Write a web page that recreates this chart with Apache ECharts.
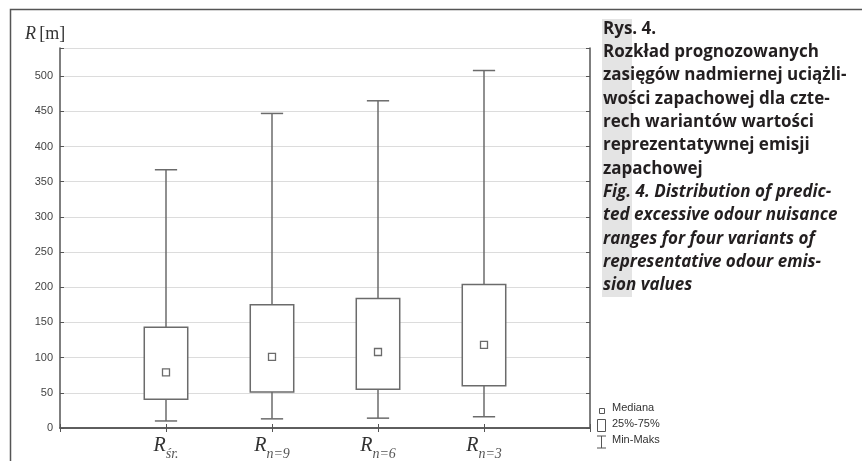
<!DOCTYPE html>
<html>
<head>
<meta charset="utf-8">
<script src="https://cdn.jsdelivr.net/npm/echarts@6/dist/echarts.min.js"></script>
<style>
  html, body { margin: 0; padding: 0; background: #fff; }
  #chart { width: 862px; height: 461px; }
</style>
</head>
<body>
<div id="chart"></div>
<script>
// Variants of representative odour emission (subscript part of the R label)
const categories = ['śr.', 'n=9', 'n=6', 'n=3'];
// Statistics of predicted nuisance range R [m] per variant
const minValues    = [10, 13, 14, 16];
const q1Values     = [41, 51, 55, 60];
const medianValues = [79, 101, 108, 118];
const q3Values     = [143, 175, 184, 204];
const maxValues    = [367, 447, 465, 508];
// Y axis ticks
const yTicks = [0, 50, 100, 150, 200, 250, 300, 350, 400, 450, 500];

const captionPl = [
  'Rys. 4.',
  'Rozkład prognozowanych',
  'zasięgów nadmiernej uciążli-',
  'wości zapachowej dla czte-',
  'rech wariantów wartości',
  'reprezentatywnej emisji',
  'zapachowej'
];
const captionEn = [
  'Fig. 4. Distribution of predic-',
  'ted excessive odour nuisance',
  'ranges for four variants of',
  'representative odour emis-',
  'sion values'
];

const LINE = '#6b6b6b';
const AXIS = '#555';

// Category axis padded with an empty slot at each end
const axisData = [''].concat(categories, ['']);
const boxData = categories.map((c, i) => [i + 1, minValues[i], q1Values[i], medianValues[i], q3Values[i], maxValues[i]]);

function renderBox(params, api) {
  const x = api.value(0);
  const pMin = api.coord([x, api.value(1)]);
  const pQ1 = api.coord([x, api.value(2)]);
  const pMed = api.coord([x, api.value(3)]);
  const pQ3 = api.coord([x, api.value(4)]);
  const pMax = api.coord([x, api.value(5)]);
  const band = api.size([1, 0])[0];
  const bw = band * 0.41;
  const cw = band * 0.21;
  const cx = pMed[0];
  const st = { stroke: LINE, lineWidth: 1.5, fill: null };
  return {
    type: 'group',
    children: [
      { type: 'line', shape: { x1: cx, y1: pMax[1], x2: cx, y2: pQ3[1] }, style: st },
      { type: 'line', shape: { x1: cx, y1: pQ1[1], x2: cx, y2: pMin[1] }, style: st },
      { type: 'line', shape: { x1: cx - cw / 2, y1: pMax[1], x2: cx + cw / 2, y2: pMax[1] }, style: st },
      { type: 'line', shape: { x1: cx - cw / 2, y1: pMin[1], x2: cx + cw / 2, y2: pMin[1] }, style: st },
      { type: 'rect', shape: { x: cx - bw / 2, y: pQ3[1], width: bw, height: pQ1[1] - pQ3[1] },
        style: { stroke: LINE, lineWidth: 1.5, fill: '#fff' } },
      { type: 'rect', shape: { x: cx - 3.5, y: pMed[1] - 3.5, width: 7, height: 7 },
        style: { stroke: LINE, lineWidth: 1.3, fill: '#fff' } }
    ]
  };
}

// Caption text block on the right
const capX = 603;
const capY0 = 29;
const capStep = 23.3;
const captionGraphics = [
  { type: 'rect', shape: { x: 602, y: 19, width: 30, height: 278 }, style: { fill: '#e4e4e4' }, z: 1 }
];
captionPl.forEach((t, i) => captionGraphics.push({
  type: 'text', x: capX, y: capY0 + i * capStep, z: 2,
  style: { text: t, font: 'bold 17px "Open Sans"', fill: '#231f20', textVerticalAlign: 'middle' }
}));
captionEn.forEach((t, i) => captionGraphics.push({
  type: 'text', x: capX, y: capY0 + (captionPl.length + i) * capStep, z: 2,
  style: { text: t, font: 'italic bold 17px "Open Sans"', fill: '#231f20', textVerticalAlign: 'middle' }
}));

// Key explaining the box symbols
const legendGraphics = [
  { type: 'rect', shape: { x: 599.5, y: 408.5, width: 5, height: 5 }, style: { stroke: '#555', fill: '#fff', lineWidth: 1 } },
  { type: 'rect', shape: { x: 597.5, y: 419.5, width: 8, height: 12 }, style: { stroke: '#555', fill: '#fff', lineWidth: 1 } },
  { type: 'polyline', shape: { points: [[597, 436], [606, 436]] }, style: { stroke: '#555', lineWidth: 1 } },
  { type: 'polyline', shape: { points: [[601.5, 436], [601.5, 448]] }, style: { stroke: '#555', lineWidth: 1 } },
  { type: 'polyline', shape: { points: [[597, 448], [606, 448]] }, style: { stroke: '#555', lineWidth: 1 } },
  { type: 'text', x: 612, y: 408, style: { text: 'Mediana', font: '11px "Liberation Sans"', fill: '#333', textVerticalAlign: 'middle' } },
  { type: 'text', x: 612, y: 424, style: { text: '25%-75%', font: '11px "Liberation Sans"', fill: '#333', textVerticalAlign: 'middle' } },
  { type: 'text', x: 612, y: 440, style: { text: 'Min-Maks', font: '11px "Liberation Sans"', fill: '#333', textVerticalAlign: 'middle' } }
];

const chart = echarts.init(document.getElementById('chart'), null, { renderer: 'canvas' });
chart.setOption({
  animation: false,
  backgroundColor: '#fff',
  grid: { left: 60, top: 48, right: 272, bottom: 30.5, show: false },
  xAxis: [{
    type: 'category', data: axisData, boundaryGap: false,
    axisLine: { lineStyle: { color: AXIS, width: 1.5 } },
    axisTick: { inside: true, length: 4, lineStyle: { color: AXIS } },
    axisLabel: {
      margin: 6, interval: 0,
      formatter: v => v ? '{r|R}{s|' + v + '}' : '',
      rich: {
        r: { fontFamily: 'Liberation Serif', fontStyle: 'italic', fontSize: 20, color: '#333', verticalAlign: 'bottom', lineHeight: 22 },
        s: { fontFamily: 'Liberation Serif', fontStyle: 'italic', fontSize: 14, color: '#555', verticalAlign: 'bottom', padding: [0, 0, -5, 0], lineHeight: 22 }
      }
    },
    splitLine: { show: false }
  }, {
    type: 'category', data: axisData, boundaryGap: false, position: 'top',
    axisLine: { lineStyle: { color: AXIS, width: 1.5 } },
    axisTick: { inside: true, length: 4, lineStyle: { color: AXIS } },
    axisLabel: { show: false }
  }],
  yAxis: [{
    type: 'value', min: 0, max: 540, interval: 50,
    axisLine: { show: true, lineStyle: { color: AXIS, width: 1.5 } },
    axisTick: { show: true, inside: true, length: 4, lineStyle: { color: AXIS } },
    axisLabel: {
      margin: 7, fontSize: 11, fontFamily: 'Liberation Sans', color: '#444',
      formatter: v => yTicks.indexOf(v) >= 0 ? String(v) : ''
    },
    splitLine: { show: true, lineStyle: { color: '#dcdcdc', width: 1 } }
  }, {
    type: 'value', min: 0, max: 540, interval: 50, position: 'right',
    axisLine: { show: true, lineStyle: { color: AXIS, width: 1.5 } },
    axisTick: { show: true, inside: true, length: 4, lineStyle: { color: AXIS } },
    axisLabel: { show: false },
    splitLine: { show: false }
  }],
  series: [{
    type: 'custom',
    renderItem: renderBox,
    data: boxData,
    encode: { x: 0, y: [1, 2, 3, 4, 5] },
    z: 5
  }],
  graphic: [
    { type: 'polyline', shape: { points: [[10.5, 470], [10.5, 9.5], [870, 9.5]] }, style: { stroke: '#555', lineWidth: 1.5, fill: null } },
    { type: 'text', x: 25, y: 34,
      style: { rich: { i: { fontFamily: 'Liberation Serif', fontStyle: 'italic', fontSize: 18, fill: '#333' },
                       n: { fontFamily: 'Liberation Serif', fontSize: 18, fill: '#333' } },
               text: '{i|R} {n|[m]}', textVerticalAlign: 'middle' } }
  ].concat(captionGraphics, legendGraphics)
});
</script>
</body>
</html>
